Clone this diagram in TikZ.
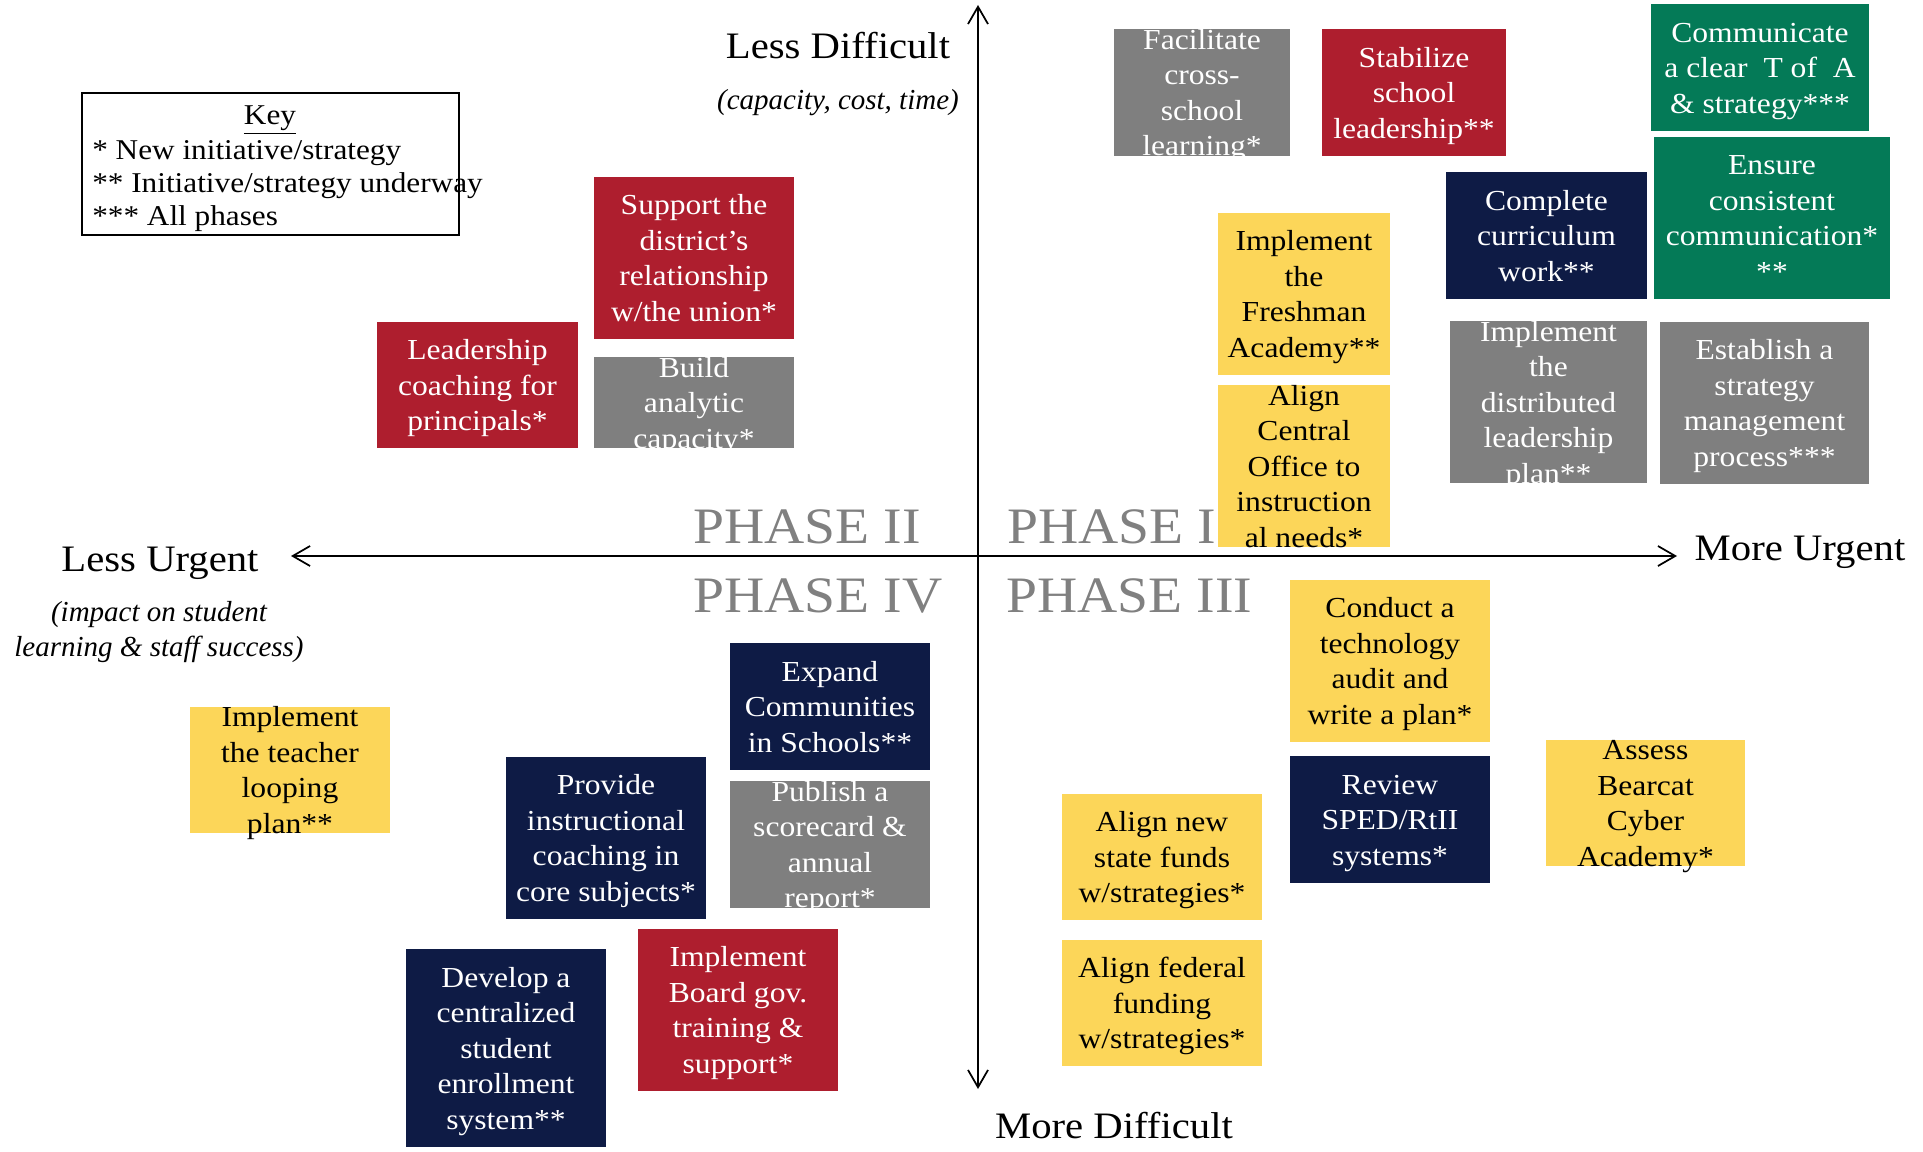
\documentclass[tikz,border=0pt]{standalone}
\usepackage{fontspec}
\setmainfont{Liberation Serif}[FakeStretch=1.09]
\newfontfamily\subfont{Liberation Serif}
\usetikzlibrary{arrows.meta}
\definecolor{cred}{HTML}{AE1E2E}
\definecolor{cgray}{HTML}{7F7F7F}
\definecolor{cnavy}{HTML}{0E1B45}
\definecolor{cgreen}{HTML}{047A57}
\definecolor{cyellow}{HTML}{FCD659}
\definecolor{cphase}{HTML}{808080}
\newcommand\qbox[8]{%
  \fill[#6] (#2,#3) rectangle (#4,#5);
  \node[btxt, text=#7] (#1) at ({(#2+#4)/2},{(#3+#5)/2+3}) {\strut #8\strut};
}
\begin{document}
\begin{tikzpicture}[x=0.75pt,y=-0.75pt,
  btxt/.style={align=center, inner sep=0pt, font=\fontsize{21.75pt}{26.6pt}\selectfont},
  axlabel/.style={inner sep=0pt, anchor=base, font=\fontsize{28pt}{33pt}\selectfont},
  axsub/.style={inner sep=0pt, align=center, font=\fontsize{21.75pt}{26.4pt}\selectfont\subfont\itshape},
  phaselabel/.style={inner sep=0pt, anchor=base west, text=cphase, font=\fontsize{38.3pt}{44pt}\selectfont},
  keytxt/.style={inner sep=0pt, font=\fontsize{21.5pt}{25pt}\selectfont},
  axisline/.style={line width=1.3pt, {Straight Barb[length=13pt,width=15pt,line width=1.3pt]}-{Straight Barb[length=13pt,width=15pt,line width=1.3pt]}}
]
\useasboundingbox (0,0) rectangle (1923,1152);

% axes
\coordinate (axL) at (291,556);
\coordinate (axR) at (1677,556);
\coordinate (axT) at (978,5);
\coordinate (axB) at (978,1089);
\draw[axisline] (axL) -- (axR);
\draw[axisline] (axT) -- (axB);

% axis labels
\node[axlabel] (lessdiff) at (838,59) {Less Difficult};
\node[axsub, anchor=base] (lessdiffsub) at (838,110) {(capacity, cost, time)};
\node[axlabel] (morediff) at (1114,1138) {More Difficult};
\node[axlabel] (lessurg) at (160,571) {Less Urgent};
\node[axsub] (lessurgsub) at (159,632) {(impact on student\\learning \& staff success)};
\node[axlabel] (moreurg) at (1800,560) {More Urgent};

% phases
\node[phaselabel] (ph2) at (693,543) {PHASE II};
\node[phaselabel] (ph1) at (1007,543) {PHASE I};
\node[phaselabel] (ph4) at (693,612) {PHASE IV};
\node[phaselabel] (ph3) at (1006,612) {PHASE III};

% key
\draw[line width=1.5pt] (82,93) rectangle (459,235);
\node[keytxt, anchor=base] (keyhead) at (270,125) {\underline{Key}};
\node[keytxt, anchor=west, align=left] (keylines) at (92,186)
  {* New initiative/strategy\\** Initiative/strategy underway\\*** All phases};

% Phase I boxes
\qbox{fac}{1114}{29}{1290}{156}{cgray}{white}{Facilitate\\cross-\\school\\learning*}
\qbox{stab}{1322}{29}{1506}{156}{cred}{white}{Stabilize\\school\\leadership**}
\qbox{comm}{1651}{4}{1869}{131}{cgreen}{white}{Communicate\\a clear\ \ T of\ \ A\\\& strategy***}
\qbox{ens}{1654}{137}{1890}{299}{cgreen}{white}{Ensure\\consistent\\communication*\\**}
\qbox{compl}{1446}{172}{1647}{299}{cnavy}{white}{Complete\\curriculum\\work**}
\qbox{fresh}{1218}{213}{1390}{375}{cyellow}{black}{Implement\\the\\Freshman\\Academy**}
\qbox{alignc}{1218}{385}{1390}{547}{cyellow}{black}{Align\\Central\\Office to\\instruction\\al needs*}
\qbox{distr}{1450}{321}{1647}{483}{cgray}{white}{Implement\\the\\distributed\\leadership\\plan**}
\qbox{estab}{1660}{322}{1869}{484}{cgray}{white}{Establish a\\strategy\\management\\process***}

% Phase II boxes
\qbox{supp}{594}{177}{794}{339}{cred}{white}{Support the\\district's\\relationship\\w/the union*}
\qbox{lead}{377}{322}{578}{448}{cred}{white}{Leadership\\coaching for\\principals*}
\qbox{build}{594}{357}{794}{448}{cgray}{white}{Build\\analytic\\capacity*}

% Phase IV boxes
\qbox{loop}{190}{707}{390}{833}{cyellow}{black}{Implement\\the teacher\\looping\\plan**}
\qbox{expand}{730}{643}{930}{770}{cnavy}{white}{Expand\\Communities\\in Schools**}
\qbox{provide}{506}{757}{706}{919}{cnavy}{white}{Provide\\instructional\\coaching in\\core subjects*}
\qbox{publish}{730}{781}{930}{908}{cgray}{white}{Publish a\\scorecard \&\\annual\\report*}
\qbox{develop}{406}{949}{606}{1147}{cnavy}{white}{Develop a\\centralized\\student\\enrollment\\system**}
\qbox{board}{638}{929}{838}{1091}{cred}{white}{Implement\\Board gov.\\training \&\\support*}

% Phase III boxes
\qbox{conduct}{1290}{580}{1490}{742}{cyellow}{black}{Conduct a\\technology\\audit and\\write a plan*}
\qbox{review}{1290}{756}{1490}{883}{cnavy}{white}{Review\\SPED/RtII\\systems*}
\qbox{assess}{1546}{740}{1745}{866}{cyellow}{black}{Assess\\Bearcat\\Cyber\\Academy*}
\qbox{alnew}{1062}{794}{1262}{920}{cyellow}{black}{Align new\\state funds\\w/strategies*}
\qbox{alfed}{1062}{940}{1262}{1066}{cyellow}{black}{Align federal\\funding\\w/strategies*}
\end{tikzpicture}
\end{document}
